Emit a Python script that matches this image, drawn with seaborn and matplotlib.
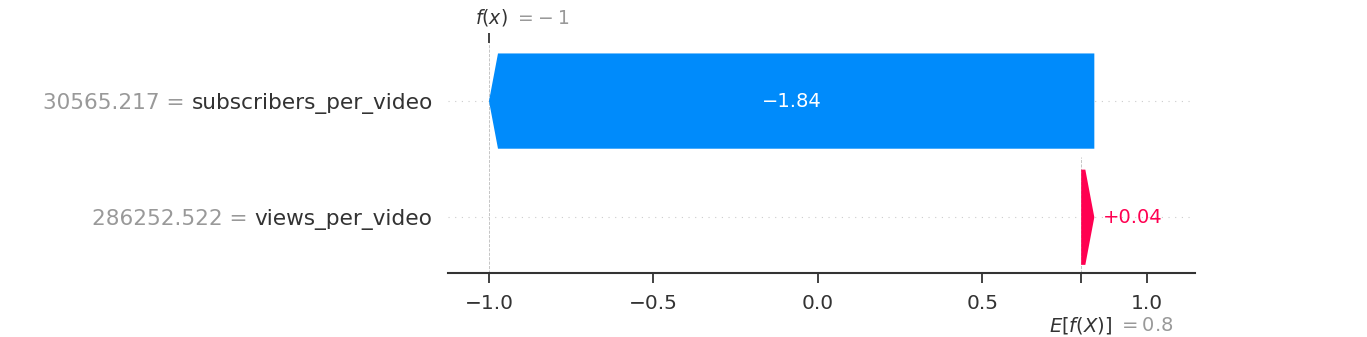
import numpy as np
import matplotlib
matplotlib.use("Agg")
import matplotlib.pyplot as plt
import seaborn as sns

# ---- data ----
feature_names = ["subscribers_per_video", "views_per_video"]
feature_values = ["30565.217", "286252.522"]
shap_values = [-1.84, 0.04]
base_value = 0.8
fx_label = "\u2212\\;1"
base_label = "0.8"
xtick_values = [-1.0, -0.5, 0.0, 0.5, 1.0]
xtick_labels = ["\u22121.0", "\u22120.5", "0.0", "0.5", "1.0"]
bar_labels = ["\u22121.84", "+0.04"]

sns.set_style("white")
plt.rcParams['font.family'] = ['DejaVu Sans']

BLUE = "#008bfb"
RED = "#ff0051"

fig = plt.figure(figsize=(13.67, 3.37), dpi=100)
ax = fig.add_axes([448/1367, 1-273/337, (1195-448)/1367, (273-43)/337])

xmin, xmax = -1.1246, 1.146
ax.set_xlim(xmin, xmax)
ax.set_ylim(-0.48, 1.5)

n = len(feature_names)
rows = [n - 1 - i for i in range(n)]  # first feature on top
fx = base_value + sum(shap_values)

order = list(range(n))[::-1]
left = base_value
starts = {}
for i in order:
    starts[i] = left
    left += shap_values[i]

px_per_unit = (1147 - 489) / 2.0
hl = 9 / px_per_unit
bar_w = 0.82

for i in range(n):
    v = shap_values[i]
    s = starts[i]
    y = rows[i]
    color = RED if v > 0 else BLUE
    ax.arrow(s, y, v, 0, width=bar_w, head_width=bar_w,
             head_length=min(abs(v), hl), length_includes_head=True,
             color=color, linewidth=0, zorder=3)
    if abs(v) > 0.3:
        ax.text(s + v / 2, y, bar_labels[i], ha="center", va="center",
                color="white", fontsize=14, zorder=4)
    else:
        end = s + v
        ax.annotate(bar_labels[i], xy=(end, y), xytext=(5.8 if v > 0 else -5.8, 0),
                    textcoords="offset points", ha="left" if v > 0 else "right",
                    va="center", color=color, fontsize=14)

for y in rows:
    ax.axhline(y, color="#cccccc", lw=0.8, dashes=(1, 5), zorder=-1)

ax.vlines(fx, -0.48, 1.5, color="#bbbbbb", linestyle="--", linewidth=0.6, zorder=-1)
ax.vlines(base_value, -0.48, 0.52, color="#bbbbbb", linestyle="--", linewidth=0.6, zorder=-1)

ax.set_yticks(rows)
ax.set_yticklabels(feature_names, fontsize=15.6, color="#333333")
ax.tick_params(axis="y", length=0, pad=11)

ax.set_xticks(xtick_values)
ax.set_xticklabels(xtick_labels, fontsize=14.5, color="#333333")
ax.set_xticks([base_value], minor=True)
ax.tick_params(axis="x", which="both", length=7, width=1.3, color="#333333",
               pad=8, direction="out", bottom=True)

for sp in ["top", "right", "left"]:
    ax.spines[sp].set_visible(False)
ax.spines["bottom"].set_color("#333333")
ax.spines["bottom"].set_linewidth(1.5)

ax2 = ax.twiny()
ax2.set_xlim(xmin, xmax)
ax2.set_xticks([fx])
ax2.set_xticklabels([""])
ax2.tick_params(axis="x", length=7, width=1.3, color="#333333", direction="out")
for sp in ["top", "right", "left", "bottom"]:
    ax2.spines[sp].set_visible(False)

ax.annotate("$f(x)$", xy=(fx, 1), xycoords=("data", "axes fraction"),
            xytext=(-10, 13.7), textcoords="offset points", ha="left",
            va="baseline", fontsize=13.5, color="#333333")
ax.annotate("$=" + fx_label + "$", xy=(fx, 1), xycoords=("data", "axes fraction"),
            xytext=(18.3, 13.7), textcoords="offset points", ha="left",
            va="baseline", fontsize=13.5, color="#999999")
ax.annotate("$E[f(X)]$", xy=(base_value, 0), xycoords=("data", "axes fraction"),
            xytext=(22.5, -41.8), textcoords="offset points", ha="right",
            va="baseline", fontsize=14, color="#333333")
ax.annotate("$ = " + base_label + "$", xy=(base_value, 0), xycoords=("data", "axes fraction"),
            xytext=(26.8, -41.8), textcoords="offset points", ha="left",
            va="baseline", fontsize=14, color="#999999")

# place grey values to the left of each feature name
fig.canvas.draw()
renderer = fig.canvas.get_renderer()
for lab, val in zip(ax.yaxis.get_majorticklabels(), feature_values):
    bb = lab.get_window_extent(renderer)
    ypix = lab.get_transform().transform(lab.get_position())[1]
    fig.text(bb.x0 - 7, ypix, val + " =", transform=None, ha="right",
             va="center_baseline", fontsize=15.6, color="#999999")

fig.savefig("out.png", dpi=100)
